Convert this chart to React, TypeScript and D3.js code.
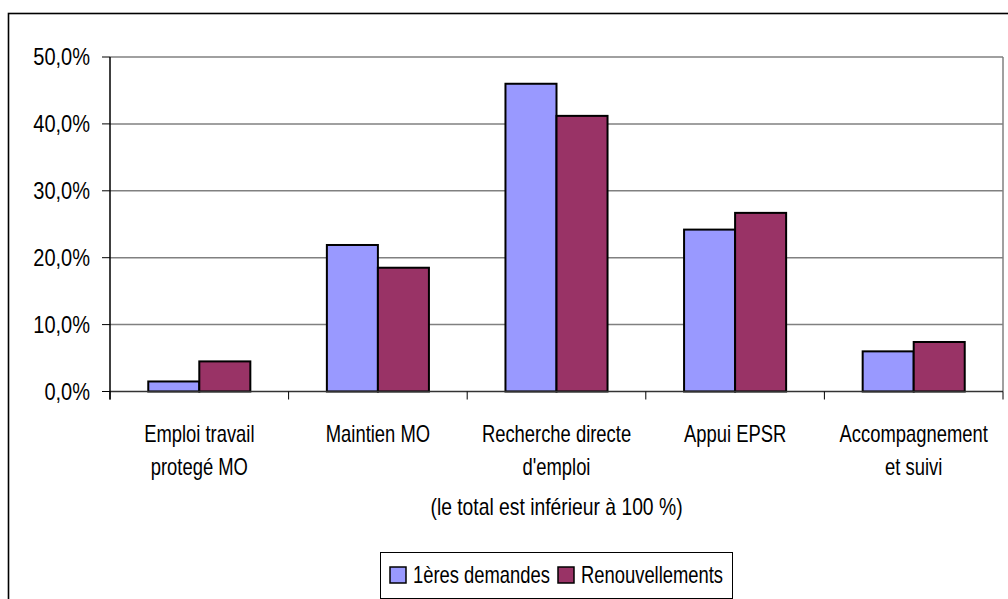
import React from "react";
import * as d3 from "d3";

const categories: string[][] = [
  ["Emploi travail", "protegé MO"],
  ["Maintien MO"],
  ["Recherche directe", "d'emploi"],
  ["Appui EPSR"],
  ["Accompagnement", "et suivi"],
];
const seriesNames = ["1ères demandes", "Renouvellements"];
const premieres = [1.5, 21.9, 46.0, 24.2, 6.0];
const renouvellements = [4.5, 18.5, 41.2, 26.7, 7.4];
const yTicks = [0, 10, 20, 30, 40, 50];
const note = "(le total est inférieur à 100 %)";

const colors = ["#9999FF", "#993366"];
const FONT = "'Liberation Sans', Arial, sans-serif";

function Txt(props: { x: number; y: number; sx: number; anchor?: string; children: React.ReactNode }) {
  return (
    <text transform={`translate(${props.x},${props.y}) scale(${props.sx},1)`} textAnchor={props.anchor || "start"}
      fontSize={23} fill="#000" fontFamily={FONT}>{props.children}</text>
  );
}

export default function App() {
  const W = 1008, H = 599;
  const left = 110, right = 1003, top = 57, bottom = 391.5;
  const idx = categories.map((_, i) => i);
  const x = d3.scaleBand<number>().domain(idx).range([left, right]).paddingInner(0).paddingOuter(0);
  const y = d3.scaleLinear().domain([0, 50]).range([bottom, top]);
  const bw = x.bandwidth();
  const barW = bw / 3.5;
  const series = [premieres, renouvellements];
  const fmt = (v: number) => v.toFixed(1).replace(".", ",") + "%";

  return (
    <svg width={W} height={H} style={{ position: "absolute", left: 0, top: 0, display: "block" }}>
      <rect x={0} y={0} width={W} height={H} fill="#fff" />
      <rect x={8.5} y={13.5} width={1010} height={600} fill="none" stroke="#000" strokeWidth={1.6} />
      {yTicks.filter((t) => t > 0).map((t) => (
        <line key={t} x1={left} x2={right} y1={y(t)} y2={y(t)} stroke="#808080" strokeWidth={1.5} />
      ))}
      <line x1={right} x2={right} y1={top} y2={bottom} stroke="#808080" strokeWidth={1.5} />
      {series.map((vals, s) =>
        vals.map((v, i) => {
          const x0 = (x(i) as number) + bw / 2 - barW + s * barW;
          return (
            <rect key={`${s}-${i}`} x={x0} y={y(v)} width={barW} height={bottom - y(v)}
              fill={colors[s]} stroke="#000" strokeWidth={2} />
          );
        })
      )}
      <line x1={left} x2={right} y1={bottom} y2={bottom} stroke="#333" strokeWidth={1.5} />
      {idx.concat([idx.length]).map((i) => {
        const xx = i < idx.length ? (x(i) as number) : right;
        return <line key={`xt${i}`} x1={xx} x2={xx} y1={bottom} y2={bottom + 8} stroke="#000" strokeWidth={1} />;
      })}
      <line x1={left} x2={left} y1={top} y2={bottom + 8} stroke="#000" strokeWidth={1.5} />
      {yTicks.map((t) => (
        <g key={`yt${t}`}>
          <line x1={left - 8} x2={left} y1={y(t)} y2={y(t)} stroke="#000" strokeWidth={1} />
          <Txt x={90} y={y(t) + 8} sx={0.87} anchor="end">{fmt(t)}</Txt>
        </g>
      ))}
      {categories.map((lines, i) =>
        lines.map((l, j) => (
          <Txt key={`c${i}-${j}`} x={(x(i) as number) + bw / 2} y={442 + j * 33} sx={0.8} anchor="middle">{l}</Txt>
        ))
      )}
      <Txt x={(left + right) / 2} y={515} sx={0.84} anchor="middle">{note}</Txt>
      <rect x={380.5} y={552.5} width={352} height={46} fill="#fff" stroke="#000" strokeWidth={1} />
      {seriesNames.map((n, s) => {
        const lx = s === 0 ? 390 : 558;
        return (
          <g key={n}>
            <rect x={lx} y={567} width={16} height={16} fill={colors[s]} stroke="#000" strokeWidth={1.5} />
            <Txt x={lx + 23} y={583} sx={0.8}>{n}</Txt>
          </g>
        );
      })}
    </svg>
  );
}
